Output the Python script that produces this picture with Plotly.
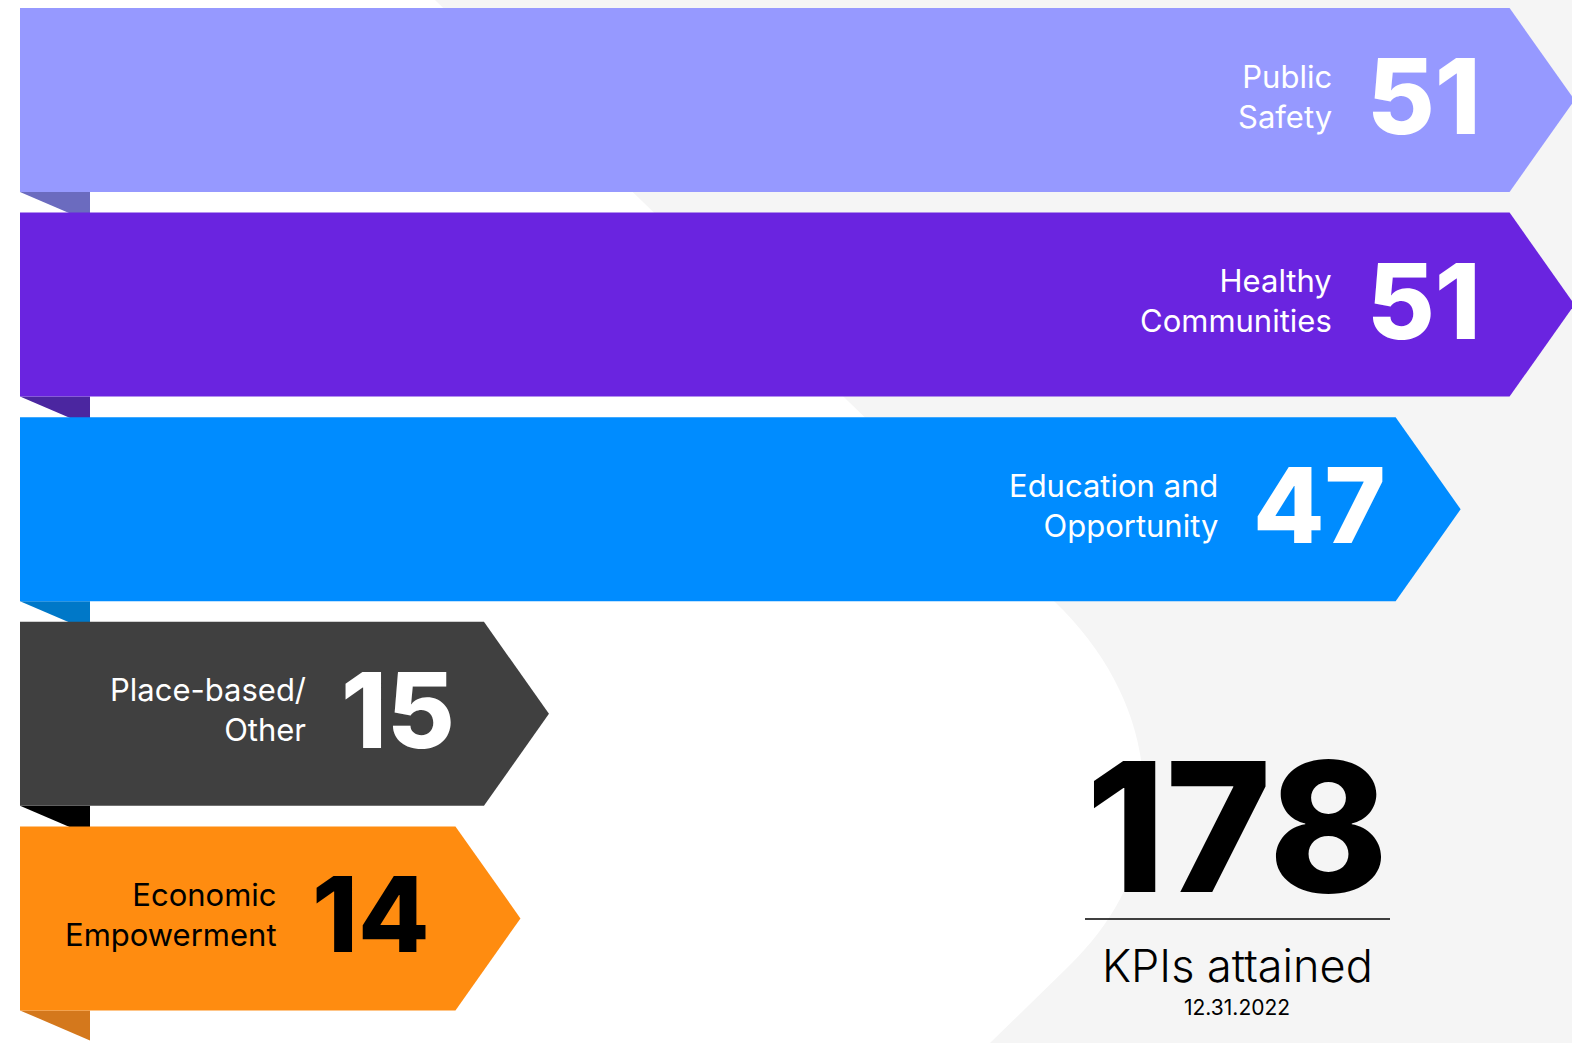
import plotly.graph_objects as go

# ---- data ----
categories = ["Public<br>Safety", "Healthy<br>Communities", "Education and<br>Opportunity",
              "Place-based/<br>Other", "Economic<br>Empowerment"]
values = [51, 51, 47, 15, 14]
bar_colors = ["#9699ff", "#6a24e0", "#008cff", "#404040", "#ff8c10"]
tab_colors = ["#6b6bbf", "#4b26a0", "#0078c8", "#000000", "#d4781c"]
number_colors = ["white", "white", "white", "white", "black"]
label_colors = ["white", "white", "white", "white", "black"]
total_label = "KPIs attained"
date_label = "12.31.2022"

W, H = 1572, 1043
# axis scale (pixels per unit)
PX_X = 28.49       # px per value unit
X0_PX = 56.6       # pixel of value 0
PX_Y = 204.6       # px per row
Y0_PX = 100.0      # pixel of row 0 center

x_range = [-X0_PX / PX_X, (W - X0_PX) / PX_X]
y_range = [(H - Y0_PX) / PX_Y, -Y0_PX / PX_Y]

def ux(px):  # pixel length -> x units
    return px / PX_X

def uy(px):
    return px / PX_Y

base = ux(20 - X0_PX)       # bar start
half = uy(92)
tip = ux(65)

fig = go.Figure()

def pp(x, y):
    return f"{x / W:.5f},{1 - y / H:.5f}"

# background gray shape (paper coords)
path = ("M " + pp(435, 0) + " L " + pp(1055, 602) +
        " C " + pp(1120, 665) + " " + pp(1150, 740) + " " + pp(1143, 820) +
        " C " + pp(1138, 880) + " " + pp(1110, 925) + " " + pp(1070, 965) +
        " L " + pp(990, 1043) + " L " + pp(1572, 1043) + " L " + pp(1572, 0) + " Z")
fig.add_shape(type="path", path=path, xref="paper", yref="paper",
              fillcolor="#f5f5f5", line=dict(width=0), layer="below")

# fold tabs
for i, v in enumerate(values):
    b = i + half
    xs = [base, base + ux(70), base + ux(70), base]
    ys = [b, b, b + uy(30), b]
    fig.add_trace(go.Scatter(x=xs, y=ys, fill="toself", mode="lines",
                             fillcolor=tab_colors[i], line=dict(width=0),
                             hoverinfo="skip", showlegend=False))

# arrow bars
for i, v in enumerate(values):
    xs = [base, v, v + tip, v, base, base]
    ys = [i - half, i - half, i, i + half, i + half, i - half]
    fig.add_trace(go.Scatter(x=xs, y=ys, fill="toself", mode="lines",
                             fillcolor=bar_colors[i], line=dict(width=0),
                             hoverinfo="skip", showlegend=False))
    fig.add_annotation(x=v - ux(145), y=i - uy(4), text=str(v), showarrow=False,
                       xanchor="left", yanchor="middle",
                       font=dict(family="Inter", size=104, color=number_colors[i], weight=800))
    fig.add_annotation(x=v - ux(176), y=i - uy(4), text=categories[i], showarrow=False,
                       xanchor="right", yanchor="middle", align="right",
                       font=dict(family="Inter", size=31, color=label_colors[i]))

total = sum(values)
fig.add_annotation(x=1237 / W, y=1 - 826 / H, xref="paper", yref="paper",
                   text=str(total), showarrow=False, xanchor="center", yanchor="middle",
                   font=dict(family="Inter", size=180, color="black", weight=800))
fig.add_shape(type="line", xref="paper", yref="paper",
              x0=1085 / W, x1=1390 / W, y0=1 - 919 / H, y1=1 - 919 / H,
              line=dict(color="black", width=1.5))
fig.add_annotation(x=1237 / W, y=1 - 965 / H, xref="paper", yref="paper",
                   text=total_label, showarrow=False, xanchor="center", yanchor="middle",
                   font=dict(family="Inter", size=45, color="black", weight=300))
fig.add_annotation(x=1237 / W, y=1 - 1007 / H, xref="paper", yref="paper",
                   text=date_label, showarrow=False, xanchor="center", yanchor="middle",
                   font=dict(family="Inter", size=21, color="black"))

fig.update_layout(
    width=W, height=H, margin=dict(l=0, r=0, t=0, b=0),
    paper_bgcolor="white", plot_bgcolor="rgba(0,0,0,0)",
    xaxis=dict(range=x_range, visible=False, fixedrange=True),
    yaxis=dict(range=y_range, visible=False, fixedrange=True),
    showlegend=False,
)

fig.write_html("out.html", config={"displayModeBar": False},
               post_script="document.body.style.margin='0';document.body.style.overflow='hidden';")
